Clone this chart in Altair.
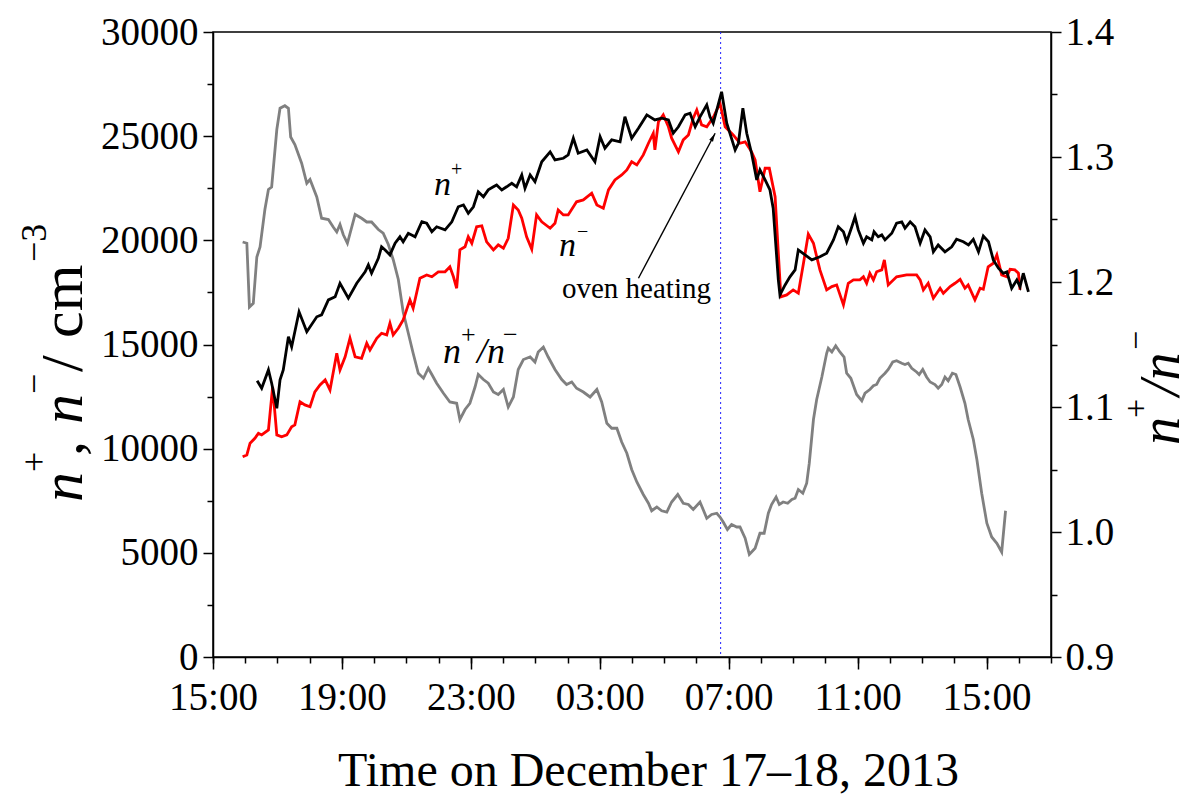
import altair as alt
import pandas as pd

FONT = "Liberation Serif"
BASE = pd.Timestamp("2013-12-17 15:00:00")

# n+ (black): hours after 15:00 on Dec 17, and concentration in cm^-3
NP_H = [
    1.37, 1.51, 1.72, 1.82, 1.98, 2.08, 2.18, 2.34, 2.44, 2.67,
    2.91, 3.22, 3.37, 3.58, 3.79, 3.94, 4.20, 4.46, 4.72, 4.82,
    4.92, 5.13, 5.23, 5.34, 5.49, 5.65, 5.80, 5.90, 6.06, 6.27,
    6.48, 6.63, 6.79, 6.94, 7.20, 7.41, 7.61, 7.77, 7.92, 8.08,
    8.23, 8.39, 8.54, 8.70, 8.80, 8.96, 9.11, 9.27, 9.42, 9.58,
    9.68, 9.84, 9.99, 10.20, 10.46, 10.61, 10.87, 11.02, 11.18, 11.33,
    11.60, 11.85, 12.01, 12.16, 12.37, 12.63, 12.78, 12.99, 13.20, 13.46,
    13.71, 13.92, 14.13, 14.28, 14.44, 14.65, 14.80, 14.96, 15.11, 15.32,
    15.42, 15.52, 15.78, 15.94, 16.20, 16.30, 16.44, 16.56, 16.71, 16.87,
    16.97, 17.13, 17.28, 17.38, 17.54, 17.59, 17.75, 17.90, 18.06, 18.16,
    18.37, 18.58, 18.83, 19.04, 19.25, 19.40, 19.56, 19.66, 19.82, 19.92,
    20.02, 20.18, 20.28, 20.44, 20.51, 20.64, 20.75, 20.85, 21.06, 21.21,
    21.37, 21.47, 21.63, 21.78, 21.94, 22.09, 22.25, 22.35, 22.50, 22.71,
    22.92, 23.07, 23.28, 23.44, 23.59, 23.75, 23.90, 24.06, 24.21, 24.37,
    24.52, 24.63, 24.78, 24.94, 25.04, 25.14, 25.30]
NP_V = [
    13260, 12900, 13780, 13140, 11940, 13300, 13780, 15370, 14890, 16570,
    15610, 16330, 16420, 17140, 17290, 17940, 17220, 17940, 18490, 18820,
    18420, 19140, 19690, 19540, 19300, 19860, 20170, 19930, 20340, 20170,
    20890, 20820, 20410, 20650, 20500, 20890, 21610, 21700, 21300, 21610,
    22330, 22090, 22420, 22570, 22660, 22420, 22570, 22740, 22570, 23140,
    22500, 23140, 22810, 23770, 24250, 23860, 23940, 24100, 24900, 24180,
    24340, 23770, 24970, 24420, 24820, 24730, 25930, 24900, 25380, 26020,
    25780, 25860, 25780, 25140, 25450, 26020, 26100, 25450, 25930, 26500,
    25930, 25620, 27130, 25620, 24340, 24660, 26340, 25140, 24180, 22900,
    23380, 22900, 22420, 21540, 18100, 17380, 17860, 18250, 18580, 19540,
    19300, 19060, 19210, 19380, 20020, 20650, 20410, 19930, 20650, 21130,
    20500, 19860, 20170, 20020, 20410, 20170, 20260, 20020, 20340, 20820,
    20890, 20580, 20890, 20650, 19860, 20500, 20170, 19450, 19780, 19450,
    19690, 20050, 19930, 19780, 20050, 19450, 20210, 19930, 19060, 18660,
    18420, 18490, 17700, 18100, 17770, 18420, 17530]

# n- (red)
NM_H = [
    0.92, 1.05, 1.15, 1.30, 1.41, 1.51, 1.72, 1.85, 1.98, 2.13,
    2.29, 2.44, 2.54, 2.70, 2.85, 3.01, 3.16, 3.32, 3.48, 3.63,
    3.84, 3.94, 4.10, 4.25, 4.41, 4.61, 4.77, 4.87, 5.08, 5.23,
    5.39, 5.49, 5.59, 5.75, 5.90, 6.11, 6.21, 6.42, 6.63, 6.79,
    6.99, 7.20, 7.35, 7.46, 7.56, 7.66, 7.82, 7.92, 8.03, 8.18,
    8.34, 8.49, 8.70, 8.85, 9.01, 9.16, 9.32, 9.47, 9.58, 9.73,
    9.89, 10.04, 10.20, 10.46, 10.61, 10.71, 10.87, 11.02, 11.28, 11.49,
    11.75, 11.91, 12.11, 12.27, 12.47, 12.68, 12.84, 12.99, 13.15, 13.35,
    13.51, 13.66, 13.71, 13.82, 13.97, 14.13, 14.23, 14.44, 14.59, 14.75,
    14.90, 15.01, 15.16, 15.32, 15.53, 15.73, 15.89, 16.14, 16.35, 16.51,
    16.71, 16.82, 16.97, 17.13, 17.26, 17.44, 17.54, 17.62, 17.80, 18.00,
    18.16, 18.32, 18.47, 18.63, 18.83, 19.04, 19.20, 19.35, 19.56, 19.71,
    19.87, 20.07, 20.18, 20.28, 20.38, 20.49, 20.59, 20.75, 20.83, 20.95,
    21.21, 21.52, 21.83, 21.94, 22.04, 22.19, 22.35, 22.56, 22.66, 22.87,
    23.02, 23.18, 23.33, 23.43, 23.64, 23.80, 23.90, 24.05, 24.21, 24.32,
    24.47, 24.63, 24.73, 24.88, 24.99, 25.04]
NM_V = [
    9610, 9700, 10260, 10500, 10740, 10660, 10900, 12970, 10660, 10570,
    10660, 11050, 11140, 12250, 12100, 12010, 12730, 13060, 13300, 12820,
    14580, 13780, 14410, 15300, 14410, 14340, 15060, 14740, 15300, 15540,
    15460, 16020, 15460, 15780, 16180, 17140, 16740, 18180, 18340, 18250,
    18490, 18490, 18730, 18250, 17700, 19540, 19690, 20170, 19860, 20650,
    20700, 19930, 19540, 19780, 19620, 20100, 21700, 21460, 21060, 20170,
    19570, 21220, 20890, 20580, 20820, 21460, 21220, 21220, 21850, 21940,
    22260, 21700, 21540, 22420, 22900, 23140, 23380, 23770, 23620, 24100,
    24660, 25140, 24340, 25690, 26020, 25450, 24900, 24250, 24820, 25060,
    25860, 26260, 25540, 25450, 25930, 26580, 25450, 25060, 24660, 24730,
    24250, 23860, 22330, 23460, 23460, 22090, 19380, 17290, 17380, 17620,
    17460, 18900, 20300, 19860, 18580, 17620, 17780, 17860, 16900, 17940,
    18100, 18100, 18250, 17940, 18420, 18100, 18490, 18580, 19060, 17860,
    18250, 18340, 18340, 18100, 17620, 17940, 17220, 17700, 17460, 17780,
    17940, 18130, 17700, 17860, 17140, 17700, 17650, 18730, 18900, 19300,
    18340, 18250, 18610, 18580, 18420, 17620]

# n+/n- ratio (grey, right axis)
R_H = [
    0.92, 1.05, 1.13, 1.25, 1.36, 1.46, 1.61, 1.72, 1.82, 1.98,
    2.08, 2.23, 2.34, 2.41, 2.54, 2.75, 2.91, 3.01, 3.22, 3.37,
    3.58, 3.73, 3.84, 3.94, 4.04, 4.17, 4.41, 4.61, 4.77, 4.92,
    5.13, 5.28, 5.44, 5.59, 5.75, 5.90, 6.06, 6.21, 6.37, 6.53,
    6.68, 6.79, 6.94, 7.15, 7.35, 7.56, 7.66, 7.82, 7.97, 8.13,
    8.23, 8.39, 8.54, 8.70, 8.85, 9.01, 9.16, 9.32, 9.47, 9.63,
    9.84, 9.99, 10.09, 10.25, 10.40, 10.61, 10.82, 10.97, 11.13, 11.28,
    11.49, 11.70, 11.91, 12.06, 12.22, 12.37, 12.53, 12.68, 12.84, 12.99,
    13.15, 13.35, 13.51, 13.61, 13.77, 13.92, 14.08, 14.23, 14.42, 14.59,
    14.75, 14.90, 15.11, 15.32, 15.47, 15.63, 15.73, 15.83, 15.96, 16.09,
    16.25, 16.35, 16.51, 16.64, 16.82, 16.97, 17.10, 17.23, 17.33, 17.47,
    17.57, 17.69, 17.83, 17.96, 18.06, 18.16, 18.30, 18.42, 18.50, 18.63,
    18.73, 18.89, 19.04, 19.09, 19.20, 19.32, 19.45, 19.58, 19.66, 19.79,
    19.97, 20.13, 20.23, 20.38, 20.49, 20.59, 20.69, 20.85, 20.95, 21.09,
    21.21, 21.37, 21.47, 21.57, 21.68, 21.83, 21.91, 22.02, 22.14, 22.25,
    22.40, 22.50, 22.61, 22.71, 22.81, 22.94, 23.05, 23.18, 23.33, 23.43,
    23.59, 23.70, 23.85, 24.01, 24.16, 24.32, 24.47, 24.59]
R_V = [
    1.232, 1.231, 1.180, 1.183, 1.220, 1.228, 1.258, 1.274, 1.276, 1.322,
    1.339, 1.341, 1.339, 1.316, 1.310, 1.295, 1.279, 1.282, 1.268, 1.251,
    1.250, 1.244, 1.240, 1.246, 1.238, 1.231, 1.254, 1.251, 1.248, 1.248,
    1.242, 1.239, 1.230, 1.218, 1.202, 1.176, 1.159, 1.143, 1.127, 1.123,
    1.131, 1.126, 1.119, 1.111, 1.104, 1.103, 1.090, 1.098, 1.103, 1.116,
    1.126, 1.122, 1.119, 1.112, 1.110, 1.114, 1.100, 1.108, 1.130, 1.138,
    1.140, 1.136, 1.144, 1.148, 1.140, 1.130, 1.122, 1.118, 1.120, 1.115,
    1.112, 1.108, 1.114, 1.104, 1.087, 1.083, 1.083, 1.072, 1.063, 1.050,
    1.040, 1.030, 1.023, 1.017, 1.020, 1.017, 1.016, 1.024, 1.030, 1.023,
    1.022, 1.018, 1.024, 1.011, 1.014, 1.015, 1.012, 1.008, 1.002, 1.006,
    1.004, 1.004, 0.995, 0.982, 0.987, 0.999, 0.999, 1.015, 1.022, 1.028,
    1.022, 1.024, 1.023, 1.026, 1.027, 1.034, 1.031, 1.039, 1.055, 1.090,
    1.106, 1.124, 1.143, 1.147, 1.144, 1.149, 1.144, 1.140, 1.127, 1.123,
    1.110, 1.105, 1.111, 1.114, 1.117, 1.118, 1.123, 1.127, 1.130, 1.136,
    1.137, 1.135, 1.134, 1.135, 1.131, 1.128, 1.126, 1.130, 1.124, 1.120,
    1.118, 1.115, 1.118, 1.124, 1.121, 1.127, 1.126, 1.116, 1.103, 1.090,
    1.074, 1.058, 1.031, 1.007, 0.996, 0.991, 0.984, 1.017]

# annotation arrow (tail, head) and oven-heating marker time
ARROW_H = [13.20, 15.58]
ARROW_V = [18180, 25140]
OVEN_H = [15.75]

N_TICKS = [0, 5000, 10000, 15000, 20000, 25000, 30000]
N_MINOR = [2500, 7500, 12500, 17500, 22500, 27500]
R_TICKS = [0.9, 1.0, 1.1, 1.2, 1.3, 1.4]
R_MINOR = [0.95, 1.05, 1.15, 1.25, 1.35]
MAJOR_HOURS = [(17, 15), (17, 19), (17, 23), (18, 3), (18, 7), (18, 11), (18, 15)]


def tdf(hours, vals):
    t = (BASE + pd.to_timedelta(pd.Series(hours, dtype=float), unit="h")).dt.round("s")
    return pd.DataFrame({"t": t, "v": vals})


def dt(d, h):
    return alt.DateTime(year=2013, month=12, date=d, hours=h)


df_np = tdf(NP_H, NP_V)
df_nm = tdf(NM_H, NM_V)
df_r = tdf(R_H, R_V)
df_arrow = tdf(ARROW_H, ARROW_V)
df_oven = tdf(OVEN_H, [0])

XS = alt.Scale(domain=[dt(17, 15), dt(18, 17)])
YN = alt.Scale(domain=[0, 30000], nice=False)
YR = alt.Scale(domain=[0.9, 1.4], nice=False, zero=False)

major_vals = [dt(d, h) for d, h in MAJOR_HOURS]
minor_vals = [dt(17 + (15 + k) // 24, (15 + k) % 24) for k in range(27)]

AX_MAIN = alt.Axis(orient="bottom", values=major_vals, format="%H:%M", tickSize=12,
                   tickCount=50, labelOverlap=False, labelFlush=False,
                   labelFontSize=39, labelPadding=9, titleFontSize=48,
                   titleX=435, titleY=128, titleBaseline="alphabetic")
AX_MINOR = alt.Axis(orient="bottom", values=minor_vals, tickCount=100, tickSize=6,
                    labels=False, domain=False)
AY_LEFT = alt.Axis(orient="left", values=N_TICKS, format="d", tickSize=10, tickCount=50,
                   labelOverlap=False, labelFlush=False, labelFontSize=39, labelPadding=5)
AY_LEFT_MINOR = alt.Axis(orient="left", values=N_MINOR, tickCount=50, tickSize=6,
                         labels=False, domain=False)
AY_RIGHT = alt.Axis(orient="right", values=R_TICKS, format=".1f", tickSize=10, tickCount=50,
                    labelOverlap=False, labelFlush=False, labelFontSize=39, labelPadding=4)
AY_RIGHT_MINOR = alt.Axis(orient="right", values=R_MINOR, tickCount=50, tickSize=6,
                          labels=False, domain=False)

LW = 2.8
black = alt.Chart(df_np).mark_line(color="black", strokeWidth=LW).encode(
    x=alt.X("t:T", scale=XS, axis=AX_MAIN, title="Time on December 17–18, 2013"),
    y=alt.Y("v:Q", scale=YN, axis=AY_LEFT, title=None),
)
red = alt.Chart(df_nm).mark_line(color="#ff0000", strokeWidth=LW).encode(
    x=alt.X("t:T", scale=XS, axis=None),
    y=alt.Y("v:Q", scale=YN, axis=None),
)
grey = alt.Chart(df_r).mark_line(color="#808080", strokeWidth=LW).encode(
    x=alt.X("t:T", scale=XS, axis=None),
    y=alt.Y("v:Q", scale=YR, axis=AY_RIGHT, title=None),
)
minor_left = alt.Chart(df_np).mark_point(opacity=0).encode(
    x=alt.X("t:T", scale=XS, axis=AX_MINOR, title=None),
    y=alt.Y("v:Q", scale=YN, axis=AY_LEFT_MINOR, title=None),
)
minor_right = alt.Chart(df_r).mark_point(opacity=0).encode(
    x=alt.X("t:T", scale=XS, axis=None),
    y=alt.Y("v:Q", scale=YR, axis=AY_RIGHT_MINOR, title=None),
)
oven_line = alt.Chart(df_oven).mark_rule(color="#2020ff", strokeWidth=1, strokeDash=[2, 3]).encode(
    x=alt.X("t:T", scale=XS, axis=None),
)
arrow = alt.Chart(df_arrow).mark_line(color="black", strokeWidth=1.4).encode(
    x=alt.X("t:T", scale=XS, axis=None),
    y=alt.Y("v:Q", scale=YN, axis=None),
)
arrow_head = alt.Chart(df_arrow.iloc[[1]]).mark_point(
    shape="M0,0L-0.55,2.2L0.55,2.2Z", filled=True, opacity=1, color="black",
    size=60, angle=28, strokeWidth=0,
).encode(
    x=alt.X("t:T", scale=XS, axis=None),
    y=alt.Y("v:Q", scale=YN, axis=None),
)


def txt(s, x, y, size, italic=False, angle=0):
    return alt.Chart(alt.Data(values=[{"k": 1}])).mark_text(
        text=s, font=FONT, fontSize=size, fontStyle="italic" if italic else "normal",
        angle=angle, align="left", baseline="alphabetic", color="black",
    ).encode(x=alt.value(x), y=alt.value(y))


texts = [
    # left axis title (rotated)
    txt("n", -131, 470, 60, True, 270),
    txt("+", -167, 440, 36, False, 270),
    txt(",", -131, 424, 60, False, 270),
    txt("n", -131, 392, 60, True, 270),
    txt("−", -167, 362, 36, False, 270),
    txt("/", -131, 340, 60, False, 270),
    txt("cm", -131, 306, 60, False, 270),
    txt("−3", -167, 230, 36, False, 270),
    # right axis title (rotated)
    txt("n", 966, 413, 56, True, 270),
    txt("+", 934, 386, 34, False, 270),
    txt("/n", 966, 364, 56, True, 270),
    txt("−", 934, 318, 34, False, 270),
    # in-plot labels
    txt("n", 221, 163, 34, True),
    txt("+", 238, 144, 20),
    txt("n", 346, 224, 34, True),
    txt("−", 364, 206, 20),
    txt("oven heating", 349, 266, 29),
    txt("n", 230, 331, 36, True),
    txt("+", 248, 311, 26),
    txt("/n", 264, 331, 36, True),
    txt("−", 290, 311, 26),
]

chart = alt.layer(
    minor_left, minor_right, oven_line, grey, red, black, arrow, arrow_head, *texts
).resolve_scale(y="independent").resolve_axis(x="independent", y="independent").properties(
    width=838, height=625,
    autosize=alt.AutoSizeParams(type="none"),
    padding={"left": 213, "top": 32, "right": 141, "bottom": 137},
    background="white",
).configure_view(stroke="black", strokeWidth=1.5).configure_axis(
    labelFont=FONT, titleFont=FONT, labelColor="black", titleColor="black",
    tickColor="black", domainColor="black", tickWidth=1.5, domainWidth=1.5,
    grid=False, titleFontWeight="normal",
)

chart.save("out.html", embed_options={"renderer": "svg", "actions": False})
